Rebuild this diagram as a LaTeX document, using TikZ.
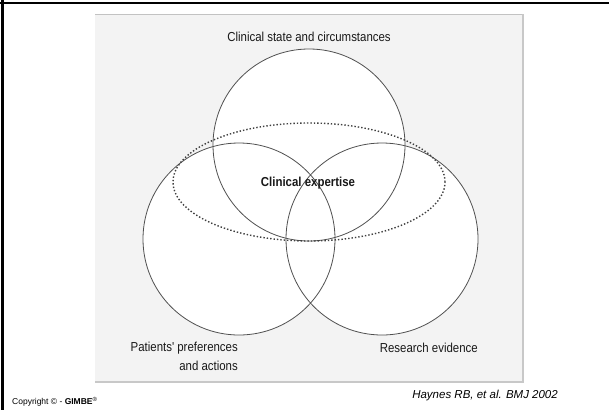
\documentclass[tikz,border=0pt]{standalone}
\usepackage{fontspec}
\setmainfont{Liberation Sans}
\newfontfamily\condfont[FakeStretch=0.88]{Liberation Sans}
\usetikzlibrary{shapes.geometric}
\definecolor{panelgray}{HTML}{F3F3F3}
\definecolor{paneledge}{HTML}{C8C8C8}
\definecolor{ringgray}{HTML}{505050}
\tikzset{
  ring/.style={circle, minimum size=192pt, inner sep=0pt, draw=ringgray, line width=0.8pt},
  ringfill/.style={circle, minimum size=192pt, inner sep=0pt, fill=white},
  expert/.style={ellipse, minimum width=272pt, minimum height=118pt, inner sep=0pt, draw=ringgray!80!black, dotted, line width=1.4pt},
  lbl/.style={inner sep=0pt, font=\condfont\fontsize{13}{15}\selectfont, text=black!90},
}
\begin{document}
\begin{tikzpicture}[x=1pt, y=-1pt]
\useasboundingbox (0,0) rectangle (609,410);
\fill[white] (0,0) rectangle (609,410);
% frame
\draw[line width=2.6pt] (0,3) -- (609,3);
\draw[line width=3pt] (2,0) -- (2,410);
% panel
\fill[panelgray] (95,14) rectangle (523,382);
\draw[panelgray!80!black, line width=1pt] (95,14) -- (523,14);
\draw[paneledge, line width=1.8pt] (523,14) -- (523,382) -- (95,382);
% circle interiors
\node[ringfill] at (309,145) {};
\node[ringfill] at (239,239) {};
\node[ringfill] at (382,239) {};
% circles
\node[ring] (clin) at (309,145) {};
\node[ring] (pat) at (239,239) {};
\node[ring] (res) at (382,239) {};
% expertise ellipse
\node[expert] (exp) at (309,182) {};
% labels
\node[lbl] (tclin) at (309,37) {Clinical state and circumstances};
\node[lbl, font=\condfont\bfseries\fontsize{13}{15}\selectfont] (texp) at (308,183) {Clinical expertise};
\node[lbl, anchor=east] (tpat1) at (238,348) {Patients' preferences};
\node[lbl, anchor=east] (tpat2) at (238,366) {and actions};
\node[lbl, anchor=east] (tres) at (478,348) {Research evidence};
% footer
\node[inner sep=0pt, anchor=east, font=\itshape\fontsize{11.5}{13}\selectfont] (cite) at (558,396) {Haynes RB, et al. BMJ 2002};
\node[inner sep=0pt, anchor=west, font=\fontsize{8.5}{10}\selectfont] (copy) at (12,402) {Copyright \textcopyright{} - \textbf{GIMBE}\textsuperscript{\textregistered}};
\end{tikzpicture}
\end{document}
